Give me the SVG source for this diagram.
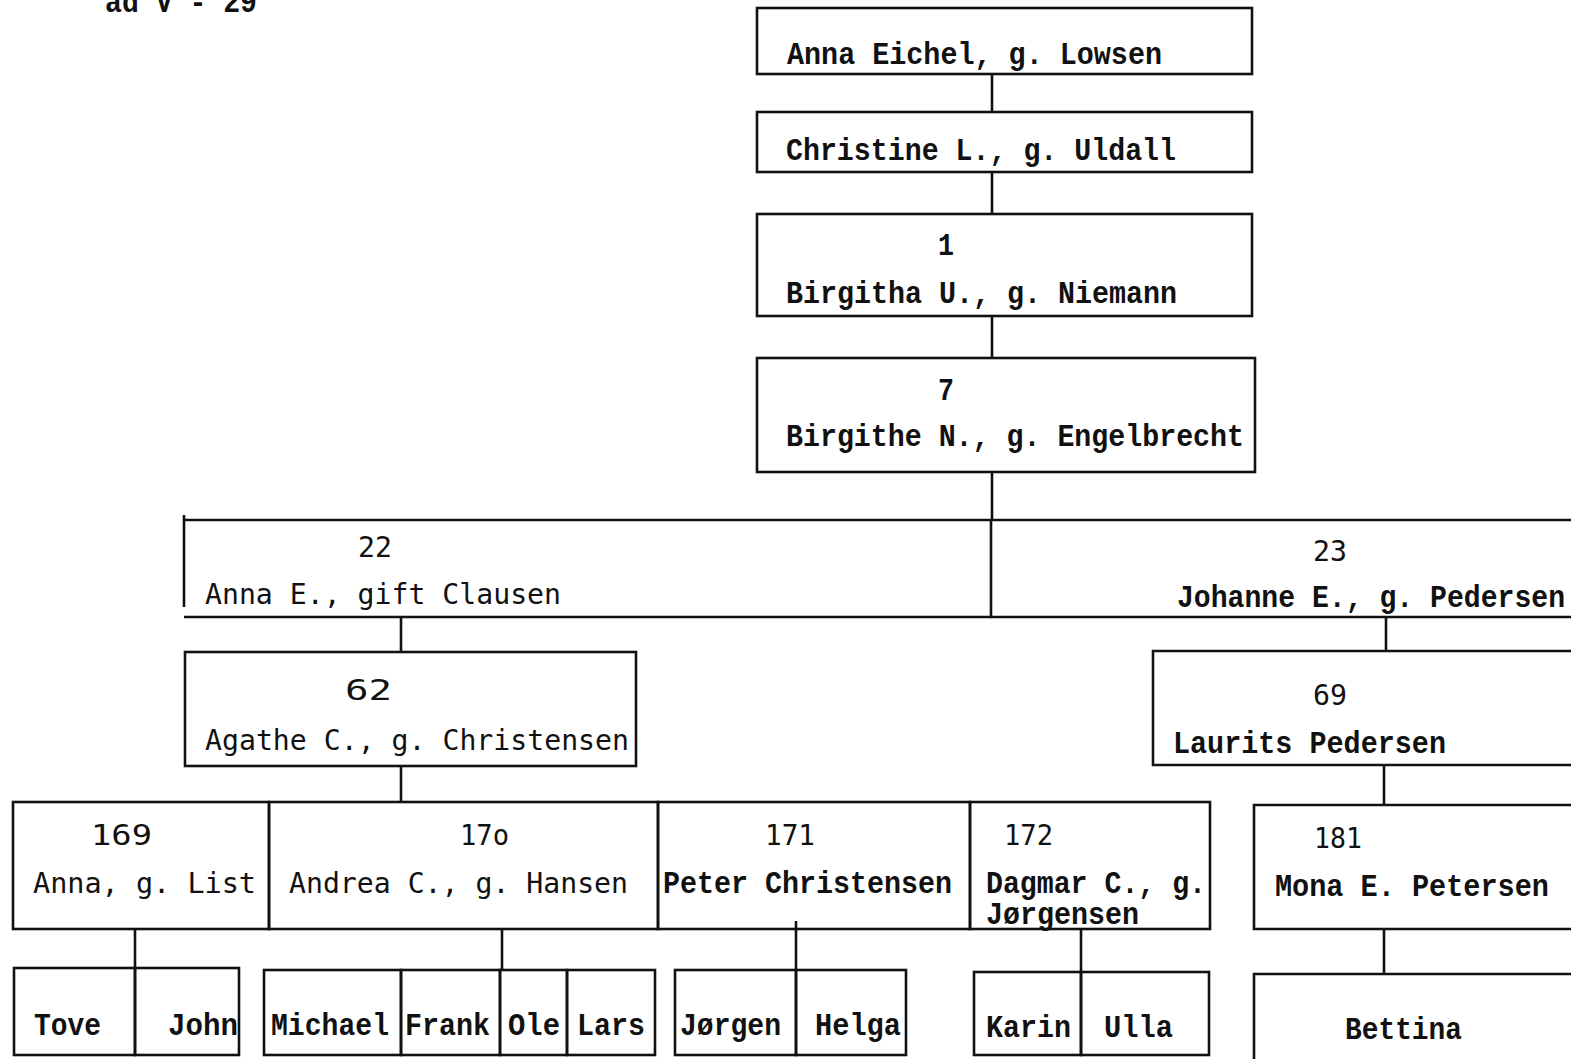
<svg xmlns="http://www.w3.org/2000/svg" width="1571" height="1059" viewBox="0 0 1571 1059">
<style>
.b{fill:none;stroke:#111;stroke-width:2.6}
.c{fill:none;stroke:#111;stroke-width:2.6}
text{font-family:"Liberation Mono","Courier New",monospace;font-size:31px;font-weight:bold;fill:#111}
.n{font-family:"DejaVu Sans Mono","Liberation Mono",monospace;font-weight:normal;font-size:29px}
.k{font-family:"DejaVu Sans Mono","Liberation Mono",monospace;font-weight:normal;font-size:29px}
</style>
<rect width="1571" height="1059" fill="#fff"/>
<text x="105" y="12" textLength="152" lengthAdjust="spacingAndGlyphs">ad V - 29</text>
<g id="connectors">
<line class="c" x1="992" y1="74" x2="992" y2="112"/>
<line class="c" x1="992" y1="172" x2="992" y2="214"/>
<line class="c" x1="992" y1="316" x2="992" y2="358"/>
<line class="c" x1="992" y1="472" x2="992" y2="520"/>
<line class="c" x1="401" y1="617" x2="401" y2="652"/>
<line class="c" x1="1386" y1="617" x2="1386" y2="651"/>
<line class="c" x1="401" y1="766" x2="401" y2="802"/>
<line class="c" x1="1384" y1="765" x2="1384" y2="805"/>
<line class="c" x1="1384" y1="929" x2="1384" y2="974"/>
<line class="c" x1="135" y1="929" x2="135" y2="968"/>
<line class="c" x1="502" y1="929" x2="502" y2="970"/>
<line class="c" x1="796" y1="921" x2="796" y2="970"/>
<line class="c" x1="1081" y1="929" x2="1081" y2="972"/>
</g>
<g id="n-anna-eichel">
<rect class="b" x="757" y="8" width="495" height="66"/>
<text x="787" y="64" textLength="375" lengthAdjust="spacingAndGlyphs">Anna Eichel, g. Lowsen</text>
</g>
<g id="n-christine">
<rect class="b" x="757" y="112" width="495" height="60"/>
<text x="786" y="160" textLength="390" lengthAdjust="spacingAndGlyphs">Christine L., g. Uldall</text>
</g>
<g id="n-1">
<rect class="b" x="757" y="214" width="495" height="102"/>
<text x="938" y="255" textLength="16" lengthAdjust="spacingAndGlyphs">1</text>
<text x="786" y="303" textLength="391" lengthAdjust="spacingAndGlyphs">Birgitha U., g. Niemann</text>
</g>
<g id="n-7">
<rect class="b" x="757" y="358" width="498" height="114"/>
<text x="938" y="400" textLength="16" lengthAdjust="spacingAndGlyphs">7</text>
<text x="786" y="446" textLength="458" lengthAdjust="spacingAndGlyphs">Birgithe N., g. Engelbrecht</text>
</g>
<g id="n-22">
<path class="b" d="M184 520 H991 V617 H184 M184 515 V607"/>
<text class="n" x="358" y="557" textLength="34" lengthAdjust="spacingAndGlyphs">22</text>
<text class="n" x="205" y="604" textLength="356" lengthAdjust="spacingAndGlyphs">Anna E., gift Clausen</text>
</g>
<g id="n-23">
<path class="b" d="M991 520 H1571 M991 617 H1571"/>
<text class="k" x="1313" y="561" textLength="34" lengthAdjust="spacingAndGlyphs">23</text>
<text x="1177" y="607" textLength="388" lengthAdjust="spacingAndGlyphs">Johanne E., g. Pedersen</text>
</g>
<g id="n-62">
<rect class="b" x="185" y="652" width="451" height="114"/>
<text class="n" x="345" y="700" textLength="47" lengthAdjust="spacingAndGlyphs">62</text>
<text class="n" x="205" y="750" textLength="424" lengthAdjust="spacingAndGlyphs">Agathe C., g. Christensen</text>
</g>
<g id="n-69">
<path class="b" d="M1571 651 H1153 V765 H1571"/>
<text class="k" x="1313" y="705" textLength="34" lengthAdjust="spacingAndGlyphs">69</text>
<text x="1173" y="753" textLength="273" lengthAdjust="spacingAndGlyphs">Laurits Pedersen</text>
</g>
<g id="n-169">
<rect class="b" x="13" y="802" width="256" height="127"/>
<text class="n" x="91" y="845" textLength="61" lengthAdjust="spacingAndGlyphs">169</text>
<text class="n" x="33" y="893" textLength="223" lengthAdjust="spacingAndGlyphs">Anna, g. List</text>
</g>
<g id="n-170">
<rect class="b" x="269" y="802" width="389" height="127"/>
<text class="n" x="460" y="845" textLength="49" lengthAdjust="spacingAndGlyphs">17o</text>
<text class="n" x="289" y="893" textLength="339" lengthAdjust="spacingAndGlyphs">Andrea C., g. Hansen</text>
</g>
<g id="n-171">
<rect class="b" x="658" y="802" width="312" height="127"/>
<text class="k" x="765" y="845" textLength="50" lengthAdjust="spacingAndGlyphs">171</text>
<text x="663" y="893" textLength="289" lengthAdjust="spacingAndGlyphs">Peter Christensen</text>
</g>
<g id="n-172">
<rect class="b" x="970" y="802" width="240" height="127"/>
<text class="k" x="1004" y="845" textLength="49" lengthAdjust="spacingAndGlyphs">172</text>
<text x="986" y="893" textLength="220" lengthAdjust="spacingAndGlyphs">Dagmar C., g.</text>
<text x="986" y="924" textLength="153" lengthAdjust="spacingAndGlyphs">Jørgensen</text>
</g>
<g id="n-181">
<path class="b" d="M1571 805 H1254 V929 H1571"/>
<text class="k" x="1314" y="848" textLength="48" lengthAdjust="spacingAndGlyphs">181</text>
<text x="1275" y="896" textLength="274" lengthAdjust="spacingAndGlyphs">Mona E. Petersen</text>
</g>
<g id="n-tove">
<rect class="b" x="14" y="968" width="121" height="87"/>
<text x="34" y="1035" textLength="67" lengthAdjust="spacingAndGlyphs">Tove</text>
</g>
<g id="n-john">
<rect class="b" x="135" y="968" width="104" height="87"/>
<text x="168" y="1035" textLength="70" lengthAdjust="spacingAndGlyphs">John</text>
</g>
<g id="n-michael">
<rect class="b" x="264" y="970" width="137" height="85"/>
<text x="271" y="1035" textLength="118" lengthAdjust="spacingAndGlyphs">Michael</text>
</g>
<g id="n-frank">
<rect class="b" x="401" y="970" width="99" height="85"/>
<text x="405" y="1035" textLength="85" lengthAdjust="spacingAndGlyphs">Frank</text>
</g>
<g id="n-ole">
<rect class="b" x="500" y="970" width="67" height="85"/>
<text x="508" y="1035" textLength="52" lengthAdjust="spacingAndGlyphs">Ole</text>
</g>
<g id="n-lars">
<rect class="b" x="567" y="970" width="88" height="85"/>
<text x="577" y="1035" textLength="68" lengthAdjust="spacingAndGlyphs">Lars</text>
</g>
<g id="n-jorgen">
<rect class="b" x="675" y="970" width="121" height="85"/>
<text x="680" y="1035" textLength="101" lengthAdjust="spacingAndGlyphs">Jørgen</text>
</g>
<g id="n-helga">
<rect class="b" x="796" y="970" width="110" height="85"/>
<text x="815" y="1035" textLength="86" lengthAdjust="spacingAndGlyphs">Helga</text>
</g>
<g id="n-karin">
<rect class="b" x="974" y="972" width="107" height="83"/>
<text x="986" y="1037" textLength="85" lengthAdjust="spacingAndGlyphs">Karin</text>
</g>
<g id="n-ulla">
<rect class="b" x="1081" y="972" width="128" height="83"/>
<text x="1104" y="1037" textLength="69" lengthAdjust="spacingAndGlyphs">Ulla</text>
</g>
<g id="n-bettina">
<path class="b" d="M1571 974 H1254 V1059"/>
<text x="1345" y="1039" textLength="117" lengthAdjust="spacingAndGlyphs">Bettina</text>
</g>
</svg>
